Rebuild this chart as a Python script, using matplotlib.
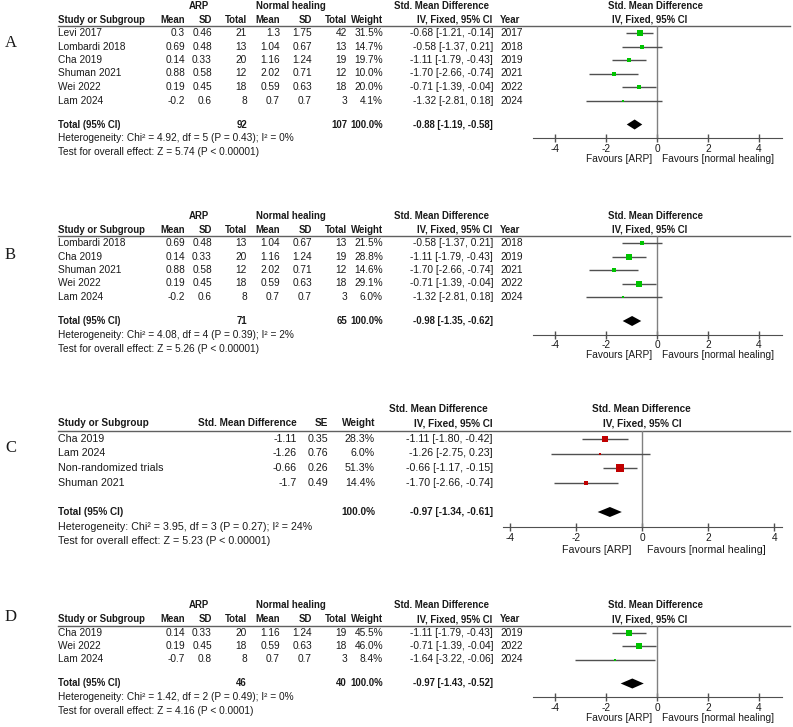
import numpy as np
import matplotlib.pyplot as plt
from matplotlib.patches import Polygon

plt.rcParams['font.family'] = ['Liberation Sans', 'DejaVu Sans']
plt.rcParams['axes.unicode_minus'] = False

# ---------------- data ----------------
# panel A
studies_a = ['Levi 2017', 'Lombardi 2018', 'Cha 2019', 'Shuman 2021', 'Wei 2022', 'Lam 2024']
arp_mean_a = [0.3, 0.69, 0.14, 0.88, 0.19, -0.2]
arp_sd_a = [0.46, 0.48, 0.33, 0.58, 0.45, 0.6]
arp_n_a = [21, 13, 20, 12, 18, 8]
nh_mean_a = [1.3, 1.04, 1.16, 2.02, 0.59, 0.7]
nh_sd_a = [1.75, 0.67, 1.24, 0.71, 0.63, 0.7]
nh_n_a = [42, 13, 19, 12, 18, 3]
weight_a = [31.5, 14.7, 19.7, 10.0, 20.0, 4.1]
smd_a = [-0.68, -0.58, -1.11, -1.70, -0.71, -1.32]
lo_a = [-1.21, -1.37, -1.79, -2.66, -1.39, -2.81]
hi_a = [-0.14, 0.21, -0.43, -0.74, -0.04, 0.18]
year_a = [2017, 2018, 2019, 2021, 2022, 2024]
totals_a = [92, 107]
pooled_a = [-0.88, -1.19, -0.58]
het_a = 'Heterogeneity: Chi² = 4.92, df = 5 (P = 0.43); I² = 0%'
test_a = 'Test for overall effect: Z = 5.74 (P < 0.00001)'

# panel B
studies_b = ['Lombardi 2018', 'Cha 2019', 'Shuman 2021', 'Wei 2022', 'Lam 2024']
arp_mean_b = [0.69, 0.14, 0.88, 0.19, -0.2]
arp_sd_b = [0.48, 0.33, 0.58, 0.45, 0.6]
arp_n_b = [13, 20, 12, 18, 8]
nh_mean_b = [1.04, 1.16, 2.02, 0.59, 0.7]
nh_sd_b = [0.67, 1.24, 0.71, 0.63, 0.7]
nh_n_b = [13, 19, 12, 18, 3]
weight_b = [21.5, 28.8, 14.6, 29.1, 6.0]
smd_b = [-0.58, -1.11, -1.70, -0.71, -1.32]
lo_b = [-1.37, -1.79, -2.66, -1.39, -2.81]
hi_b = [0.21, -0.43, -0.74, -0.04, 0.18]
year_b = [2018, 2019, 2021, 2022, 2024]
totals_b = [71, 65]
pooled_b = [-0.98, -1.35, -0.62]
het_b = 'Heterogeneity: Chi² = 4.08, df = 4 (P = 0.39); I² = 2%'
test_b = 'Test for overall effect: Z = 5.26 (P < 0.00001)'

# panel C (generic inverse variance)
studies_c = ['Cha 2019', 'Lam 2024', 'Non-randomized trials', 'Shuman 2021']
smd_col_c = [-1.11, -1.26, -0.66, -1.7]
se_c = [0.35, 0.76, 0.26, 0.49]
weight_c = [28.3, 6.0, 51.3, 14.4]
smd_c = [-1.11, -1.26, -0.66, -1.70]
lo_c = [-1.80, -2.75, -1.17, -2.66]
hi_c = [-0.42, 0.23, -0.15, -0.74]
pooled_c = [-0.97, -1.34, -0.61]
het_c = 'Heterogeneity: Chi² = 3.95, df = 3 (P = 0.27); I² = 24%'
test_c = 'Test for overall effect: Z = 5.23 (P < 0.00001)'

# panel D
studies_d = ['Cha 2019', 'Wei 2022', 'Lam 2024']
arp_mean_d = [0.14, 0.19, -0.7]
arp_sd_d = [0.33, 0.45, 0.8]
arp_n_d = [20, 18, 8]
nh_mean_d = [1.16, 0.59, 0.7]
nh_sd_d = [1.24, 0.63, 0.7]
nh_n_d = [19, 18, 3]
weight_d = [45.5, 46.0, 8.4]
smd_d = [-1.11, -0.71, -1.64]
lo_d = [-1.79, -1.39, -3.22]
hi_d = [-0.43, -0.04, -0.06]
year_d = [2019, 2022, 2024]
totals_d = [46, 40]
pooled_d = [-0.97, -1.43, -0.52]
het_d = 'Heterogeneity: Chi² = 1.42, df = 2 (P = 0.49); I² = 0%'
test_d = 'Test for overall effect: Z = 4.16 (P < 0.0001)'

# ---------------- layout ----------------
W, H = 793, 727
FS = 7.3
FSB = 6.9
TXT = '#1a1a1a'
GREEN = '#00c400'
RED = '#c00000'
CI_COL = '#505050'
TICKS = [-4, -2, 0, 2, 4]

fig = plt.figure(figsize=(W / 100, H / 100), dpi=100)
bg = fig.add_axes([0, 0, 1, 1])
bg.set_xlim(0, W)
bg.set_ylim(H, 0)
bg.axis('off')


def txt(x, y, s, ha='left', bold=False, scale=1.0):
    bg.text(x, y, s, ha=ha, va='center', fontsize=(FSB if bold else FS) * scale, color=TXT,
            fontweight='bold' if bold else 'normal')


def ci_str(e, l, h):
    return '{:.2f} [{:.2f}, {:.2f}]'.format(e, l, h)


def forest_axes(top, bottom, left, right, xlim):
    ax = fig.add_axes([left / W, 1 - bottom / H, (right - left) / W, (bottom - top) / H])
    ax.set_xlim(xlim)
    ax.set_ylim(bottom, top)
    ax.patch.set_alpha(0)
    for s in ['top', 'right', 'left']:
        ax.spines[s].set_visible(False)
    ax.spines['bottom'].set_color('#505050')
    ax.set_yticks([])
    ax.set_xticks(TICKS)
    ax.tick_params(axis='x', direction='inout', length=6, width=1, color='#505050',
                   labelsize=FS, labelcolor=TXT, pad=1)
    ax.axvline(0, color='#808080', lw=1)
    return ax


def draw_forest(ax, rows, smd, lo, hi, w, color, k, pooled, y_tot):
    ax.hlines(rows, lo, hi, color=CI_COL, lw=1)
    for y, e, wt in zip(rows, smd, w):
        ax.plot(e, y, marker='s', ms=0.72 * k * np.sqrt(wt), color=color, mew=0)
    e, l, h = pooled
    ax.add_patch(Polygon([(l, y_tot), (e, y_tot - 5), (h, y_tot), (e, y_tot + 5)],
                         closed=True, color='black', lw=0))


def arp_panel(top, letter, letter_y, studies, am, asd, an, nm, nsd, nn, w, smd, lo, hi,
              years, totals, pooled, het, test):
    bg.text(5, letter_y, letter, fontsize=12, family='Liberation Serif', va='center', color=TXT)
    # headers
    txt(199, top + 6, 'ARP', ha='center', bold=True)
    txt(291, top + 6, 'Normal healing', ha='center', bold=True)
    txt(489, top + 6, 'Std. Mean Difference', ha='right', bold=True)
    txt(656, top + 6, 'Std. Mean Difference', ha='center', bold=True)
    yh = top + 20
    txt(58, yh, 'Study or Subgroup', bold=True)
    for x, s in zip([185, 212, 247, 280, 312, 347, 383],
                    ['Mean', 'SD', 'Total', 'Mean', 'SD', 'Total', 'Weight']):
        txt(x, yh, s, ha='right', bold=True)
    txt(492, yh, 'IV, Fixed, 95% CI', ha='right', bold=True)
    txt(500, yh, 'Year', bold=True)
    txt(650, yh, 'IV, Fixed, 95% CI', ha='center', bold=True)
    bg.plot([58, 790], [top + 26, top + 26], color='#606060', lw=1)

    rows = [top + 33 + 13.5 * i for i in range(len(studies))]
    for i, y in enumerate(rows):
        txt(58, y, studies[i])
        txt(185, y, str(am[i]), ha='right')
        txt(212, y, str(asd[i]), ha='right')
        txt(247, y, str(an[i]), ha='right')
        txt(280, y, str(nm[i]), ha='right')
        txt(312, y, str(nsd[i]), ha='right')
        txt(347, y, str(nn[i]), ha='right')
        txt(383, y, '{:.1f}%'.format(w[i]), ha='right')
        txt(493, y, ci_str(smd[i], lo[i], hi[i]), ha='right')
        txt(500, y, str(years[i]))
    y_tot = rows[-1] + 24
    txt(58, y_tot, 'Total (95% CI)', bold=True)
    txt(247, y_tot, str(totals[0]), ha='right', bold=True)
    txt(347, y_tot, str(totals[1]), ha='right', bold=True)
    txt(383, y_tot, '100.0%', ha='right', bold=True)
    txt(493, y_tot, ci_str(*pooled), ha='right', bold=True)
    txt(58, y_tot + 13.5, het)
    txt(58, y_tot + 27.5, test)

    y_axis = y_tot + 13.5
    ax = forest_axes(top + 26, y_axis, 533, 782, (-4.88, 4.92))
    draw_forest(ax, rows, smd, lo, hi, w, GREEN, 1.0, pooled, y_tot)
    txt(652, y_axis + 21, 'Favours [ARP]', ha='right')
    txt(662, y_axis + 21, 'Favours [normal healing]')


arp_panel(0, 'A', 43, studies_a, arp_mean_a, arp_sd_a, arp_n_a, nh_mean_a, nh_sd_a, nh_n_a,
          weight_a, smd_a, lo_a, hi_a, year_a, totals_a, pooled_a, het_a, test_a)
arp_panel(210, 'B', 255, studies_b, arp_mean_b, arp_sd_b, arp_n_b, nh_mean_b, nh_sd_b, nh_n_b,
          weight_b, smd_b, lo_b, hi_b, year_b, totals_b, pooled_b, het_b, test_b)
arp_panel(599.5, 'D', 617, studies_d, arp_mean_d, arp_sd_d, arp_n_d, nh_mean_d, nh_sd_d, nh_n_d,
          weight_d, smd_d, lo_d, hi_d, year_d, totals_d, pooled_d, het_d, test_d)

# ---- panel C (exported slightly larger) ----
SC = 1.05
bg.text(5, 448, 'C', fontsize=12, family='Liberation Serif', va='center', color=TXT)
txt(488, 409, 'Std. Mean Difference', ha='right', bold=True, scale=SC)
txt(641, 409, 'Std. Mean Difference', ha='center', bold=True, scale=SC)
txt(58, 423, 'Study or Subgroup', bold=True, scale=SC)
txt(297, 423, 'Std. Mean Difference', ha='right', bold=True, scale=SC)
txt(328, 423, 'SE', ha='right', bold=True, scale=SC)
txt(375, 423, 'Weight', ha='right', bold=True, scale=SC)
txt(493, 423, 'IV, Fixed, 95% CI', ha='right', bold=True, scale=SC)
txt(642, 423, 'IV, Fixed, 95% CI', ha='center', bold=True, scale=SC)
bg.plot([58, 790], [431, 431], color='#606060', lw=1)
rows_c = [439 + 14.5 * i for i in range(len(studies_c))]
for i, y in enumerate(rows_c):
    txt(58, y, studies_c[i], scale=SC)
    txt(297, y, str(smd_col_c[i]), ha='right', scale=SC)
    txt(328, y, str(se_c[i]), ha='right', scale=SC)
    txt(375, y, '{:.1f}%'.format(weight_c[i]), ha='right', scale=SC)
    txt(493, y, ci_str(smd_c[i], lo_c[i], hi_c[i]), ha='right', scale=SC)
y_tot_c = 512
txt(58, y_tot_c, 'Total (95% CI)', bold=True, scale=SC)
txt(375, y_tot_c, '100.0%', ha='right', bold=True, scale=SC)
txt(493, y_tot_c, ci_str(*pooled_c), ha='right', bold=True, scale=SC)
txt(58, y_tot_c + 15, het_c, scale=SC)
txt(58, y_tot_c + 29, test_c, scale=SC)
ax_c = forest_axes(431, 527, 503, 782, (-4.2, 4.23))
draw_forest(ax_c, rows_c, smd_c, lo_c, hi_c, weight_c, RED, 1.2, pooled_c, y_tot_c)
txt(632, 550, 'Favours [ARP]', ha='right', scale=SC)
txt(647, 550, 'Favours [normal healing]', scale=SC)

fig.savefig('out.png', dpi=100)
